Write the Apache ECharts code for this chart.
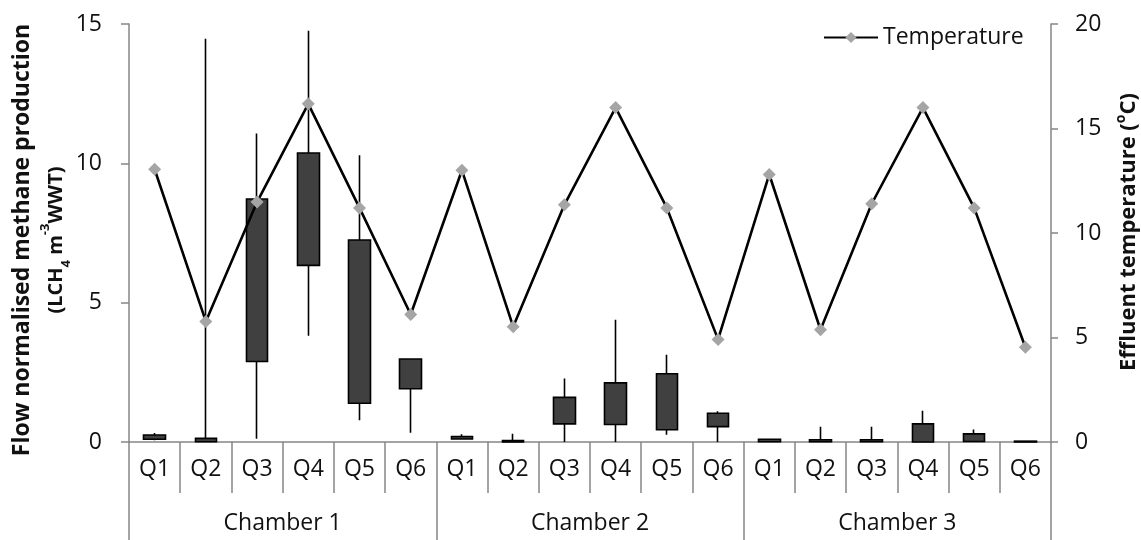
<!DOCTYPE html>
<html>
<head>
<meta charset="utf-8">
<script src="https://cdn.jsdelivr.net/npm/echarts@6/dist/echarts.min.js"></script>
<style>html,body{margin:0;padding:0;background:#fff}#c{width:1141px;height:540px}</style>
</head>
<body>
<div id="c"></div>
<script>
const quarters = ['Q1','Q2','Q3','Q4','Q5','Q6','Q1','Q2','Q3','Q4','Q5','Q6','Q1','Q2','Q3','Q4','Q5','Q6'];
const chambers = ['Chamber 1','Chamber 2','Chamber 3'];
const leftTicks = [0, 5, 10, 15];
const rightTicks = [0, 5, 10, 15, 20];
// methane production (left axis): whisker low, box bottom, box top, whisker high
const whiskerLow  = [0.06, 0.00, 0.12, 3.81, 0.78, 0.33, 0.10, 0.00, 0.00, 0.00, 0.26, 0.00, 0.00, 0.00, 0.00, 0.00, 0.02, 0.00];
const boxLow      = [0.10, 0.01, 2.89, 6.34, 1.39, 1.91, 0.11, 0.00, 0.65, 0.63, 0.44, 0.55, 0.01, 0.01, 0.01, 0.00, 0.02, 0.00];
const boxHigh     = [0.25, 0.13, 8.72, 10.37, 7.25, 2.98, 0.20, 0.05, 1.60, 2.12, 2.45, 1.03, 0.10, 0.08, 0.08, 0.65, 0.29, 0.03];
const whiskerHigh = [0.32, 14.47, 11.07, 14.76, 10.29, 2.98, 0.28, 0.30, 2.28, 4.39, 3.13, 1.10, 0.12, 0.55, 0.55, 1.12, 0.45, 0.03];
// effluent temperature (right axis)
const temperature = [13.05, 5.77, 11.48, 16.18, 11.2, 6.1, 13.0, 5.52, 11.35, 16.0, 11.2, 4.91, 12.8, 5.37, 11.4, 16.0, 11.2, 4.53];

const FONT = 'Open Sans';
const GRAY = '#868686';
const TXT = '#111';

const candleData = boxLow.map((v, i) => [v, boxHigh[i], whiskerLow[i], whiskerHigh[i]]);

const chart = echarts.init(document.getElementById('c'));
chart.setOption({
  animation: false,
  textStyle: { fontFamily: FONT },
  grid: { left: 129, right: 90, top: 24, bottom: 98, containLabel: false, outerBoundsMode: 'none' },
  legend: {
    data: ['Temperature'],
    left: 823, top: 26, padding: 0,
    itemWidth: 54, itemHeight: 14, itemGap: 6,
    textStyle: { fontFamily: FONT, fontSize: 23, color: TXT }
  },
  graphic: [
    {
      type: 'text', x: 39, y: 240, rotation: Math.PI / 2,
      style: {
        text: '{a|Flow normalised methane production}\n{t|(LCH}{sub|4}{t| m}{sup|-3}{t|WWT)}',
        align: 'center', verticalAlign: 'middle',
        rich: {
          a: { fontFamily: FONT, fontSize: 23, fontWeight: 'bold', fill: TXT, lineHeight: 34 },
          t: { fontFamily: FONT, fontSize: 20, fontWeight: 'bold', fill: TXT, lineHeight: 34 },
          sub: { fontFamily: FONT, fontSize: 13, fontWeight: 'bold', fill: TXT, lineHeight: 13, verticalAlign: 'bottom' },
          sup: { fontFamily: FONT, fontSize: 13, fontWeight: 'bold', fill: TXT, lineHeight: 13, verticalAlign: 'top' }
        }
      }
    },
    {
      type: 'text', x: 1129, y: 232, rotation: Math.PI / 2,
      style: {
        text: '{t|Effluent temperature (}{sup|o}{t|C)}',
        align: 'center', verticalAlign: 'middle',
        rich: {
          t: { fontFamily: FONT, fontSize: 22, fontWeight: 'bold', fill: TXT, lineHeight: 30 },
          sup: { fontFamily: FONT, fontSize: 14, fontWeight: 'bold', fill: TXT, lineHeight: 14, verticalAlign: 'top' }
        }
      }
    }
  ],
  xAxis: [
    {
      type: 'category', data: quarters, position: 'bottom', boundaryGap: true,
      axisLine: { show: true, lineStyle: { color: GRAY, width: 1.5 } },
      axisTick: { show: true, interval: 0, length: 51, lineStyle: { color: GRAY, width: 1.5 } },
      axisLabel: { interval: 0, margin: 16, fontFamily: FONT, fontSize: 23, color: TXT },
      splitLine: { show: false }
    },
    {
      type: 'category', data: chambers, position: 'bottom', boundaryGap: true,
      axisLine: { show: false },
      axisTick: { show: true, interval: 0, length: 98, lineStyle: { color: GRAY, width: 1.5 } },
      axisLabel: { interval: 0, margin: 70, fontFamily: FONT, fontSize: 23, color: TXT },
      splitLine: { show: false }
    }
  ],
  yAxis: [
    {
      type: 'value', min: leftTicks[0], max: leftTicks[leftTicks.length - 1], interval: 5,
      position: 'left',
      axisLine: { show: true, lineStyle: { color: GRAY, width: 1.5 } },
      axisTick: { show: true, length: 8, lineStyle: { color: GRAY, width: 1.5 } },
      axisLabel: { margin: 27, fontFamily: FONT, fontSize: 23, color: TXT },
      splitLine: { show: false }
    },
    {
      type: 'value', min: rightTicks[0], max: rightTicks[rightTicks.length - 1], interval: 5,
      position: 'right',
      axisLine: { show: true, lineStyle: { color: GRAY, width: 1.5 } },
      axisTick: { show: true, length: 7, lineStyle: { color: GRAY, width: 1.5 } },
      axisLabel: { margin: 24, fontFamily: FONT, fontSize: 23, color: TXT },
      splitLine: { show: false }
    }
  ],
  series: [
    {
      name: 'Methane', type: 'candlestick', xAxisIndex: 0, yAxisIndex: 0,
      data: candleData, barWidth: 22,
      itemStyle: { color: '#404040', color0: '#404040', borderColor: '#000', borderColor0: '#000', borderWidth: 1.6 },
      z: 2
    },
    {
      name: 'Temperature', type: 'line', xAxisIndex: 0, yAxisIndex: 1,
      data: temperature,
      symbol: 'diamond', symbolSize: 13,
      lineStyle: { color: '#000', width: 2.6 },
      itemStyle: { color: '#a5a5a5' },
      z: 3
    }
  ]
});
</script>
</body>
</html>
